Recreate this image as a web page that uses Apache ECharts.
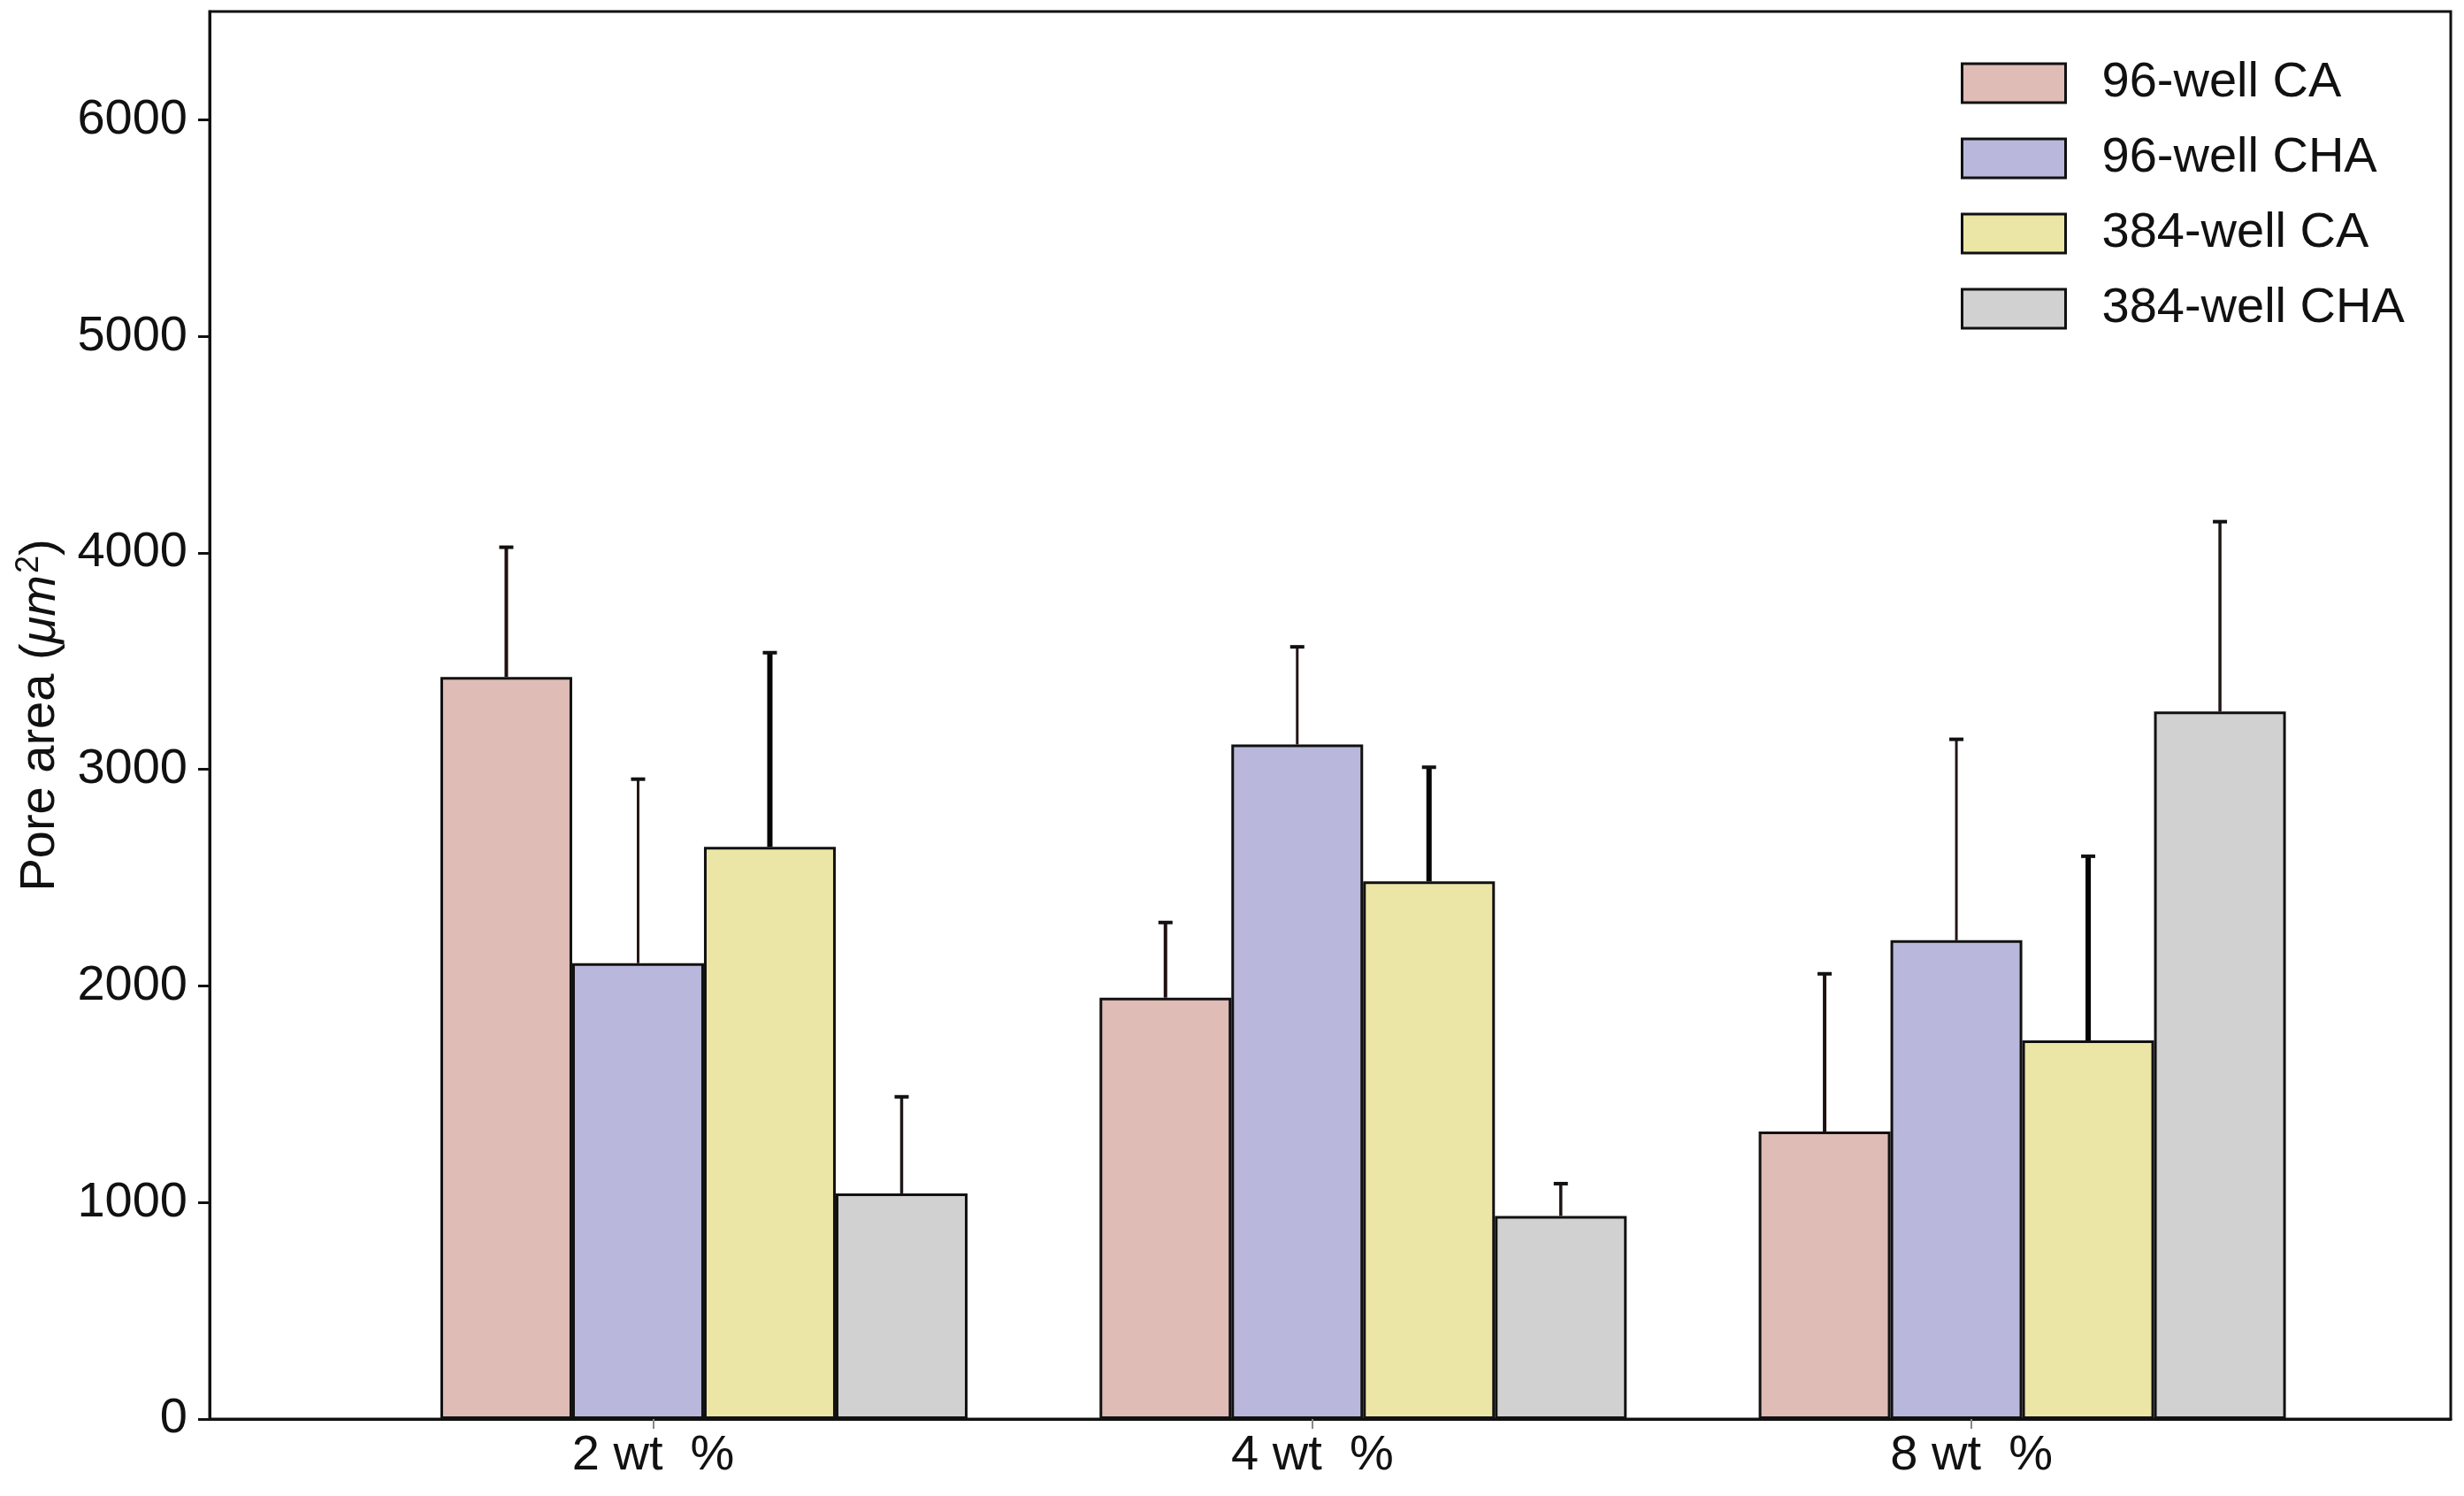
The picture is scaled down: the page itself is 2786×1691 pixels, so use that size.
<!DOCTYPE html>
<html>
<head>
<meta charset="utf-8">
<script src="https://cdn.jsdelivr.net/npm/echarts@6/dist/echarts.min.js"></script>
<style>
  html, body { margin: 0; padding: 0; background: #ffffff; }
  #chart { width: 2786px; height: 1691px; }
</style>
</head>
<body>
<div id="chart"></div>
<script>
// ---- data ----
const categories = ['2 wt  %', '4 wt  %', '8 wt  %'];
const seriesNames = ['96-well CA', '96-well CHA', '384-well CA', '384-well CHA'];
const mean96CA   = [3427, 1946, 1328];
const err96CA    = [599, 347, 728];
const mean96CHA  = [2105, 3115, 2211];
const err96CHA   = [850, 451, 928];
const mean384CA  = [2642, 2483, 1749];
const err384CA   = [897, 527, 850];
const mean384CHA = [1042, 938, 3267];
const err384CHA  = [446, 149, 877];
const yTicks = [0, 1000, 2000, 3000, 4000, 5000, 6000];

// ---- styling ----
const FONT = "'Liberation Sans', Arial, Helvetica, sans-serif";
const fills = ['#dfbcb6', '#b9b8dc', '#ece6a6', '#d1d1d1'];
const stemWidths = [4, 3, 6, 3.5];
const stemColors = ['#201010', '#241616', '#050505', '#201616'];
const BAR_PX = 149;
const LABEL_SHIFT = -0.077; // tick/label sit slightly left of group centre in the original

const means = [mean96CA, mean96CHA, mean384CA, mean384CHA];
const errs = [err96CA, err96CHA, err384CA, err384CHA];
const xPos = categories.map((c, i) => i + 1);

const barSeries = seriesNames.map((name, s) => ({
  name: name,
  type: 'bar',
  barWidth: BAR_PX,
  barGap: '0%',
  data: xPos.map((x, i) => [x, means[s][i]]),
  itemStyle: { color: fills[s], borderColor: '#111111', borderWidth: 3 },
  z: 2
}));

const errSeries = seriesNames.map((name, s) => ({
  type: 'custom',
  data: xPos.map((x, i) => [x, means[s][i], means[s][i] + errs[s][i]]),
  z: 3,
  silent: true,
  renderItem: function (params, api) {
    const base = api.coord([api.value(0), api.value(1)]);
    const top = api.coord([api.value(0), api.value(2)]);
    const cx = base[0] + (s - 1.5) * BAR_PX;
    const cap = 8;
    return {
      type: 'group',
      children: [
        { type: 'line', shape: { x1: cx, y1: base[1], x2: cx, y2: top[1] },
          style: { stroke: stemColors[s], lineWidth: stemWidths[s] } },
        { type: 'line', shape: { x1: cx - cap, y1: top[1], x2: cx + cap, y2: top[1] },
          style: { stroke: '#111111', lineWidth: 4 } }
      ]
    };
  }
}));

const chart = echarts.init(document.getElementById('chart'), null, { renderer: 'canvas' });
chart.setOption({
  backgroundColor: '#ffffff',
  animation: false,
  textStyle: { fontFamily: FONT },
  grid: {
    left: 237, right: 15, top: 13, bottom: 87,
    show: true, borderColor: '#111111', borderWidth: 3, backgroundColor: 'transparent'
  },
  legend: {
    data: seriesNames,
    orient: 'vertical',
    left: 2212, top: 61,
    itemWidth: 117, itemHeight: 44, itemGap: 29,
    icon: 'rect',
    textStyle: { fontSize: 56, color: '#111111', fontFamily: FONT, padding: [0, 0, 0, 36] },
    itemStyle: { borderColor: '#111111', borderWidth: 3 }
  },
  xAxis: {
    type: 'value',
    min: 0.25, max: 3.65,
    axisLine: { show: true, onZero: false, lineStyle: { color: '#111111', width: 3 } },
    axisTick: {
      show: true, length: 11,
      customValues: xPos.map(x => x + LABEL_SHIFT),
      lineStyle: { color: '#888888', width: 2 }
    },
    axisLabel: {
      customValues: xPos.map(x => x + LABEL_SHIFT),
      formatter: function (v) { return categories[Math.round(v - LABEL_SHIFT) - 1] || ''; },
      fontSize: 56, color: '#111111', margin: 14, fontFamily: FONT
    },
    splitLine: { show: false }
  },
  yAxis: {
    type: 'value',
    min: 0, max: 6500, interval: 1000,
    name: '{a|Pore area (}{i|μm}{s|2}{a|)}',
    nameLocation: 'middle',
    nameGap: 160,
    nameTextStyle: {
      rich: {
        a: { fontSize: 56, color: '#111111', fontFamily: FONT },
        i: { fontSize: 56, color: '#111111', fontFamily: FONT, fontStyle: 'italic' },
        s: { fontSize: 36, color: '#111111', fontFamily: FONT, padding: [0, 0, 26, 2] }
      }
    },
    axisLine: { show: true, lineStyle: { color: '#111111', width: 3 } },
    axisTick: { show: true, length: 13, customValues: yTicks, lineStyle: { color: '#111111', width: 3 } },
    axisLabel: {
      fontSize: 56, color: '#111111', margin: 25, fontFamily: FONT,
      customValues: yTicks,
      formatter: function (v) { return String(v); }
    },
    splitLine: { show: false }
  },
  series: barSeries.concat(errSeries)
});
</script>
</body>
</html>
